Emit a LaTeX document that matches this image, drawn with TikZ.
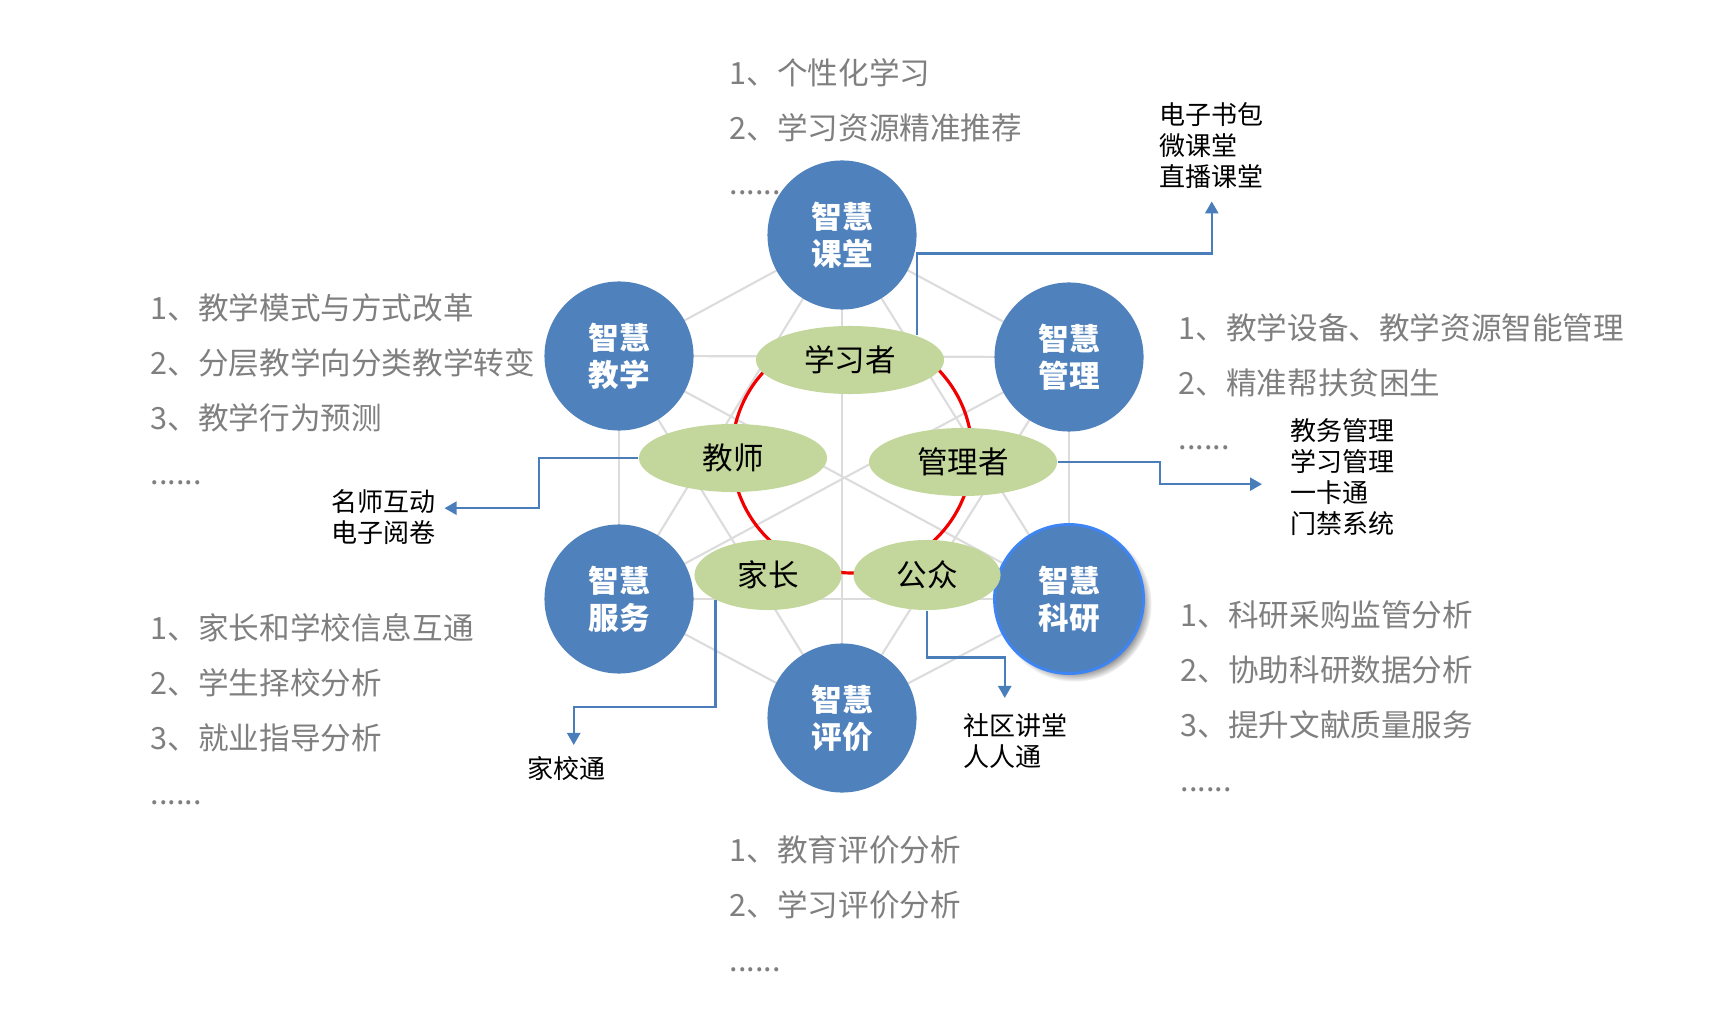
\documentclass[tikz,border=0pt]{standalone}
\usepackage{fontspec}
\setmainfont{Noto Sans CJK SC}
\usetikzlibrary{shapes.geometric,arrows.meta,backgrounds,shadows}
\definecolor{WisdomBlue}{HTML}{4F81BD}
\definecolor{RoleGreen}{HTML}{C3D69B}
\definecolor{WebGray}{HTML}{DCDCDC}
\definecolor{NoteGray}{HTML}{7F7F7F}
\definecolor{RingRed}{HTML}{F00000}
\definecolor{LinkBlue}{HTML}{4A7EBB}
\definecolor{FocusBlue}{HTML}{3D85F5}

\begin{document}
\begin{tikzpicture}[x=0.01cm,y=-0.01cm,
    wisdom/.style={circle,fill=WisdomBlue,minimum size=1.49cm,inner sep=0pt,text=white,align=center,font=\bfseries\fontsize{8.7}{10.5}\selectfont},
    role/.style={ellipse,fill=RoleGreen,minimum width=1.88cm,minimum height=0.68cm,inner sep=0pt,font=\fontsize{8.7}{10}\selectfont},
    rolesmall/.style={role,minimum width=1.47cm,minimum height=0.70cm},
    note/.style={anchor=north west,inner sep=0pt,align=left,text=NoteGray,font=\fontsize{8.7}{15.6}\selectfont},
    tag/.style={anchor=north west,inner sep=0pt,align=left,font=\fontsize{7.4}{8.8}\selectfont},
    link/.style={draw=LinkBlue,line width=0.7pt,-{Triangle[length=0.12cm,width=0.13cm]}}]
  \useasboundingbox (0,0) rectangle (1731,1019);

  % lists beside the circles
  \node[note] (n-ketang) at (729,58) {1、个性化学习\\2、学习资源精准推荐\\......};
  \node[note] (n-jiaoxue) at (150,293) {1、教学模式与方式改革\\2、分层教学向分类教学转变\\3、教学行为预测\\......};
  \node[note] (n-guanli) at (1178,313) {1、教学设备、教学资源智能管理\\2、精准帮扶贫困生\\......};
  \node[note] (n-fuwu) at (150,613) {1、家长和学校信息互通\\2、学生择校分析\\3、就业指导分析\\......};
  \node[note] (n-keyan) at (1180,600) {1、科研采购监管分析\\2、协助科研数据分析\\3、提升文献质量服务\\......};
  \node[note] (n-pingjia) at (729,835) {1、教育评价分析\\2、学习评价分析\\......};

  % six circles
  \node[wisdom] (c-ketang) at (842,235) {智慧\\课堂};
  \node[wisdom] (c-jiaoxue) at (619,356) {智慧\\教学};
  \node[wisdom] (c-guanli) at (1069,357) {智慧\\管理};
  \node[wisdom] (c-fuwu) at (619,599) {智慧\\服务};
  \node[wisdom,draw=FocusBlue,line width=0.8pt,circular drop shadow={shadow xshift=0.05cm,shadow yshift=-0.05cm,shadow scale=1.04}] (c-keyan) at (1069,599) {智慧\\科研};
  \node[wisdom] (c-pingjia) at (842,718) {智慧\\评价};

  % roles
  \node[role] (e-xuexi) at (850,360) {学习者};
  \node[role] (e-jiaoshi) at (733,458) {教师};
  \node[role] (e-guanli) at (963,462) {管理者};
  \node[rolesmall] (e-jiazhang) at (768,575) {家长};
  \node[rolesmall] (e-gongzhong) at (927,575) {公众};

  % small tags
  \node[tag] (t-dianzi) at (1159,102) {电子书包\\微课堂\\直播课堂};
  \node[tag] (t-jiaowu) at (1290,418) {教务管理\\学习管理\\一卡通\\门禁系统};
  \node[tag] (t-mingshi) at (331,489) {名师互动\\电子阅卷};
  \node[tag] (t-jiaxiao) at (527,756) {家校通};
  \node[tag] (t-shequ) at (963,713) {社区讲堂\\人人通};

  \begin{pgfonlayer}{background}
    \foreach \a [count=\i] in {ketang,guanli,keyan,pingjia,fuwu,jiaoxue}
      \foreach \b [count=\j] in {ketang,guanli,keyan,pingjia,fuwu,jiaoxue}
        {\ifnum\j>\i \draw[WebGray,line width=0.6pt] (c-\a.center) -- (c-\b.center); \fi}
    \draw[RingRed,line width=0.9pt] (852,453) circle (120);
  \end{pgfonlayer}

  % connectors
  \draw[link,shorten >=0.12cm] (e-xuexi.north east) -- ++(0,-82) -| (t-dianzi.south);
  \draw[link,shorten >=0.28cm] (e-guanli.east) -- ++(102,0) |- ([yshift=-0.07cm]t-jiaowu.west);
  \draw[link,shorten >=0.08cm] (e-jiaoshi.west) -- ++(-99,0) |- ([yshift=0.09cm]t-mingshi.east);
  \draw[link,shorten >=0.11cm] (e-jiazhang.south west) -- ++(0,107) -| ([xshift=0.07cm]t-jiaxiao.north);
  \draw[link,shorten >=0.15cm] (e-gongzhong.south) -- ++(0,47) -| ([xshift=-0.11cm]t-shequ.north);
\end{tikzpicture}
\end{document}
